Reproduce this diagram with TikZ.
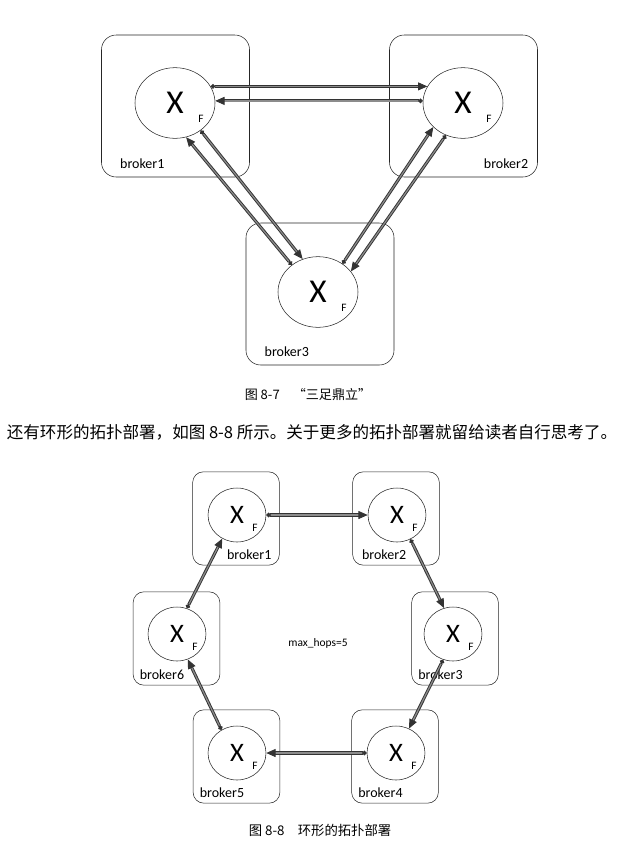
\documentclass[tikz,border=0pt]{standalone}
\usepackage{fontspec}
\setmainfont{Carlito}
\newfontfamily\cjk{Noto Sans CJK SC}
\usetikzlibrary{positioning,calc,shapes.geometric,arrows.meta}

\begin{document}
\begin{tikzpicture}[x=0.75pt,y=-0.75pt,
		bigbox/.style={draw=black!85,rounded corners=11pt,minimum width=111pt,minimum height=106.5pt},
		ringbox/.style={draw=black!85,rounded corners=8pt,minimum width=65pt,minimum height=70pt},
		bighub/.style={draw=black!85,ellipse,inner sep=0pt,minimum width=60pt,minimum height=53pt,font=\fontsize{25}{25}\selectfont},
		ringhub/.style={draw=black!85,ellipse,inner sep=0pt,minimum width=43.5pt,minimum height=40.5pt,font=\fontsize{20}{20}\selectfont},
		flabel/.style={inner sep=0pt,font=\fontsize{8.5}{8.5}\selectfont},
		blabel/.style={inner sep=0pt,font=\fontsize{10.5}{10.5}\selectfont},
		relay/.style={draw=black!80,double=black!45,double distance=0.9pt,line width=0.7pt,{Circle[length=3.5pt]}-{Triangle[length=7pt,width=6pt]}}]
		\useasboundingbox (0,0) rectangle (629,858);

		% three brokers
		\node[bigbox] (bx1) at (175.5,106) {};
		\node[bigbox] (bx2) at (463.5,106) {};
		\node[bigbox] (bx3) at (320,294) {};
		\node[bighub] (b1) at (175,103) {X};
		\node[bighub] (b2) at (463,103) {X};
		\node[bighub] (b3) at (318,292) {X};
		\node[flabel] at ($(b1)+(26,16)$) {F};
		\node[flabel] at ($(b2)+(26,16)$) {F};
		\node[flabel] at ($(b3)+(26,16)$) {F};
		\node[blabel,above right=6pt and 14pt of bx1.south west] {broker1};
		\node[blabel,above left=6pt and 7pt of bx2.south east] {broker2};
		\node[blabel,above right=6pt and 14pt of bx3.south west] {broker3};

		\draw[relay] (b1.25) -- (b2.155);
		\draw[relay] (b2.177) -- (b1.3);
		\draw[relay] (b1.-47) -- (b3.115);
		\draw[relay] (b3.134) -- (b1.-72);
		\draw[relay] (b3.49) -- (b2.-141);
		\draw[relay] (b2.-118) -- (b3.32);

		\node[font=\cjk\fontsize{9.8}{12}\selectfont] (cap1) at (308,395) {图 8-7\quad“三足鼎立”};
		\node[font=\cjk\fontsize{12.4}{14}\selectfont] (body) at (312,432) {还有环形的拓扑部署，如图 8-8 所示。关于更多的拓扑部署就留给读者自行思考了。};

		% ring of six brokers
		\node[ringbox] (rb1) at (236,518.5) {};
		\node[ringbox] (rb2) at (396,518.5) {};
		\node[ringbox] (rb3) at (455,638.5) {};
		\node[ringbox] (rb4) at (395,756.5) {};
		\node[ringbox] (rb5) at (236.5,756.5) {};
		\node[ringbox] (rb6) at (176.5,638.5) {};
		\node[ringhub] (r1) at (237,515) {X};
		\node[ringhub] (r2) at (397,515) {X};
		\node[ringhub] (r3) at (453,634) {X};
		\node[ringhub] (r4) at (396,753) {X};
		\node[ringhub] (r5) at (237,753) {X};
		\node[ringhub] (r6) at (177,634) {X};
		\foreach \r in {r1,r2,r3,r4,r5,r6}
			\node[flabel] at ($(\r)+(18,13)$) {F};
		\node[blabel,above left=4pt and 6pt of rb1.south east] {broker1};
		\node[blabel,above right=4pt and 7pt of rb2.south west] {broker2};
		\node[blabel,above right=4pt and 5pt of rb3.south west] {broker3};
		\node[blabel,above right=4pt and 5pt of rb4.south west] {broker4};
		\node[blabel,above right=4pt and 5pt of rb5.south west] {broker5};
		\node[blabel,above right=4pt and 5pt of rb6.south west] {broker6};
		\node[font=\fontsize{8.6}{10}\selectfont] (hops) at (318,643) {max\_hops=5};

		\draw[relay] (r1.east) -- (r2.west);
		\draw[relay] (r2.-61) -- (r3.109);
		\draw[relay] (r3.-111) -- (r4.62);
		\draw[relay] (r4.west) -- (r5.east);
		\draw[relay] (r5.124) -- (r6.-67);
		\draw[relay] (r6.69) -- (r1.-122);

		\node[font=\cjk\fontsize{10}{12}\selectfont] (cap2) at (320,830) {图 8-8\quad 环形的拓扑部署};
	\end{tikzpicture}
\end{document}
